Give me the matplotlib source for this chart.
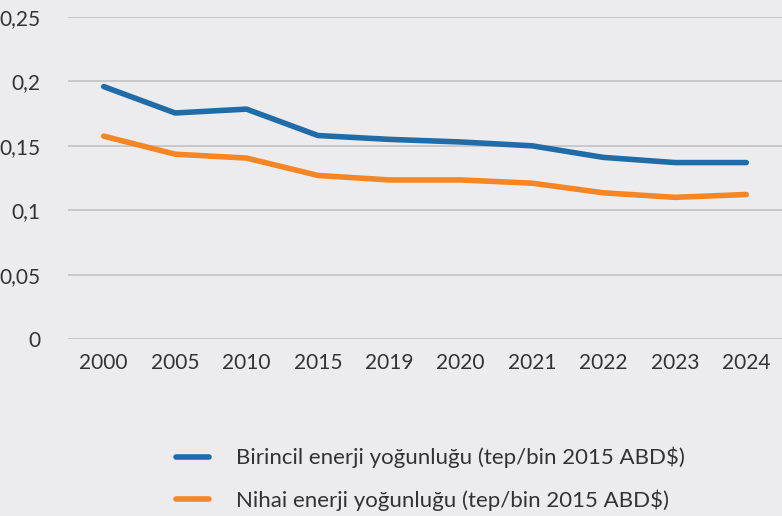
import numpy as np
import matplotlib.pyplot as plt

plt.rcParams['font.family'] = ['Lato', 'DejaVu Sans']

years = ['2000', '2005', '2010', '2015', '2019', '2020', '2021', '2022', '2023', '2024']
birincil = [0.196, 0.1755, 0.1785, 0.158, 0.155, 0.153, 0.150, 0.141, 0.137, 0.137]
nihai = [0.1575, 0.1435, 0.1405, 0.127, 0.1235, 0.1235, 0.121, 0.1135, 0.110, 0.1122]
yticks = [0, 0.05, 0.1, 0.15, 0.2, 0.25]
ylabels = ['0', '0,05', '0,1', '0,15', '0,2', '0,25']

bg = '#ECECEE'
fig = plt.figure(figsize=(7.82, 5.16), dpi=100, facecolor=bg)
ax = fig.add_axes([0.087, 0.343, 0.913, 0.624], facecolor=bg)

x = np.arange(len(years))
ax.plot(x, birincil, color='#1F6CA8', lw=4, solid_capstyle='round',
        label='Birincil enerji yoğunluğu (tep/bin 2015 ABD$)')
ax.plot(x, nihai, color='#F58623', lw=4, solid_capstyle='round',
        label='Nihai enerji yoğunluğu (tep/bin 2015 ABD$)')

ax.set_xlim(-0.5, len(years) - 0.5)
ax.set_ylim(0, 0.25)
ax.set_yticks(yticks)
ax.set_yticklabels(ylabels)
ax.set_xticks(x)
ax.set_xticklabels(years)
ax.grid(axis='y', color='#C6C6C8', lw=1.3)
ax.set_axisbelow(True)
for s in ax.spines.values():
    s.set_visible(False)
ax.tick_params(length=0, labelsize=15, colors='#333333')
ax.tick_params(axis='y', pad=20)
ax.tick_params(axis='x', pad=10)

fig.legend(loc='center', bbox_to_anchor=(0.55, 0.072), frameon=False,
           fontsize=16, labelcolor='#333333', handlelength=1.5,
           handletextpad=1.2, labelspacing=0.95)

fig.savefig('out.png', dpi=100, facecolor=bg)
